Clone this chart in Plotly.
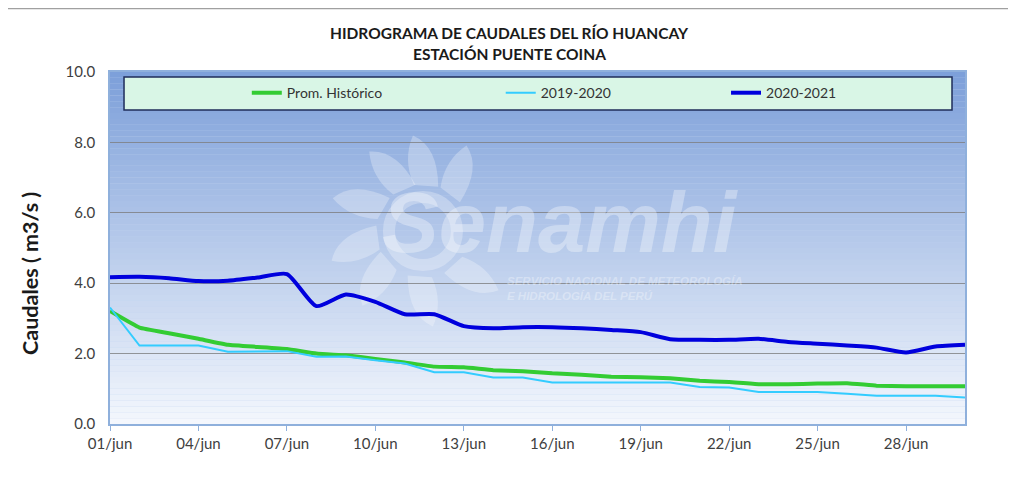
import math
import plotly.graph_objects as go

# dias de junio y caudales (m3/s)
dias = [f"2021-06-{d:02d}" for d in range(1, 31)]

prom_historico = [3.21, 2.74, 2.58, 2.42, 2.25, 2.19, 2.13, 2.00, 1.95, 1.85,
                  1.75, 1.63, 1.61, 1.53, 1.50, 1.44, 1.40, 1.34, 1.33, 1.30,
                  1.23, 1.19, 1.13, 1.13, 1.15, 1.16, 1.09, 1.07, 1.07, 1.07]

q_2019_2020 = [3.31, 2.23, 2.23, 2.23, 2.05, 2.06, 2.07, 1.91, 1.92, 1.81,
               1.72, 1.47, 1.47, 1.32, 1.32, 1.18, 1.18, 1.18, 1.18, 1.18,
               1.05, 1.04, 0.91, 0.91, 0.91, 0.86, 0.80, 0.80, 0.80, 0.75]

q_2020_2021 = [4.17, 4.18, 4.14, 4.06, 4.07, 4.16, 4.26, 3.35, 3.68, 3.47,
               3.12, 3.12, 2.78, 2.72, 2.75, 2.75, 2.72, 2.67, 2.61, 2.41,
               2.39, 2.39, 2.42, 2.33, 2.28, 2.23, 2.17, 2.03, 2.20, 2.25]

tick_vals = dias[::3]
tick_text = [f"{d[-2:]}/jun" for d in tick_vals]

FONT = "Lato"

fig = go.Figure()
fig.add_trace(go.Scatter(x=dias, y=prom_historico, name="Prom. Histórico", legend="legend",
                         mode="lines", line=dict(color="#33cc33", width=4, shape="spline", smoothing=0.3)))
fig.add_trace(go.Scatter(x=dias, y=q_2019_2020, name="2019-2020", legend="legend2",
                         mode="lines", line=dict(color="#33ccff", width=2)))
fig.add_trace(go.Scatter(x=dias, y=q_2020_2021, name="2020-2021", legend="legend3",
                         mode="lines", line=dict(color="#0000dd", width=4, shape="spline", smoothing=0.6)))

# fondo degradado del area de trazado
shapes = []
n = 60
top = (125, 160, 218)
bot = (244, 247, 253)
for i in range(n):
    t = i / (n - 1)
    c = tuple(int(top[k] + (bot[k] - top[k]) * t) for k in range(3))
    shapes.append(dict(type="rect", xref="x domain", yref="y domain",
                       x0=0, x1=1, y0=1 - (i + 1) / n, y1=1 - i / n,
                       fillcolor=f"rgb{c}", line=dict(width=0), layer="below"))

# logo (sol) de la marca de agua
sol_x, sol_y = 0.366, 0.548
wm = "rgba(255,255,255,0.28)"
shapes.append(dict(type="circle", xref="paper", yref="paper", xsizemode="pixel", ysizemode="pixel",
                   xanchor=sol_x, yanchor=sol_y, x0=-34, x1=34, y0=-34, y1=34,
                   line=dict(color=wm, width=12), layer="below"))
for ang in [150, 114, 86, 53, 188, 221, 266, 312]:
    a0 = math.radians(ang - 15)
    a1 = math.radians(ang + 15)
    at = math.radians(ang + 10)
    am = math.radians(ang - 6)
    p0 = (47 * math.cos(a0), 47 * math.sin(a0))
    p1 = (47 * math.cos(a1), 47 * math.sin(a1))
    tip = (96 * math.cos(at), 96 * math.sin(at))
    c0 = (86 * math.cos(am), 86 * math.sin(am))
    c1 = (74 * math.cos(math.radians(ang + 20)), 74 * math.sin(math.radians(ang + 20)))
    path = (f"M {p0[0]:.1f},{p0[1]:.1f} Q {c0[0]:.1f},{c0[1]:.1f} {tip[0]:.1f},{tip[1]:.1f} "
            f"Q {c1[0]:.1f},{c1[1]:.1f} {p1[0]:.1f},{p1[1]:.1f} Z")
    shapes.append(dict(type="path", xref="paper", yref="paper", xsizemode="pixel", ysizemode="pixel",
                       xanchor=sol_x, yanchor=sol_y, path=path,
                       fillcolor=wm, line=dict(width=0), layer="below"))

# caja de la leyenda
shapes.append(dict(type="rect", xref="paper", yref="paper",
                   x0=0.0164, x1=0.9848, y0=0.892, y1=0.986,
                   fillcolor="#d9f6e6", line=dict(color="#1f2d5a", width=1.5),
                   layer="above"))

# marco exterior
shapes.append(dict(type="line", xref="paper", yref="paper",
                   x0=-0.1205, x1=1.07, y0=1.1805, y1=1.1805,
                   line=dict(color="#a0a0a0", width=1.5)))
shapes.append(dict(type="line", xref="paper", yref="paper",
                   x0=-0.1205, x1=-0.1205, y0=1.1805, y1=-0.2,
                   line=dict(color="#a0a0a0", width=1.5)))

WM_FONT = "Liberation Sans"
annotations = [
    dict(text="<b>HIDROGRAMA DE CAUDALES DEL RÍO HUANCAY</b>", x=0.4667, y=1.111,
         xref="paper", yref="paper", showarrow=False, yanchor="middle",
         font=dict(family=FONT, size=15.5, color="#1a1a1a")),
    dict(text="<b>ESTACIÓN PUENTE COINA</b>", x=0.4667, y=1.051,
         xref="paper", yref="paper", showarrow=False, yanchor="middle",
         font=dict(family=FONT, size=15.5, color="#1a1a1a")),
    dict(text="<b>Caudales ( m3/s )</b>", x=-0.0936, y=0.429, textangle=-90,
         xref="paper", yref="paper", showarrow=False, xanchor="center", yanchor="middle",
         font=dict(family=FONT, size=21.5, color="#1a1a1a")),
    # marca de agua
    dict(text="<b><i>Senamhi</i></b>", x=0.527, y=0.4318, xref="paper", yref="paper",
         yanchor="bottom", showarrow=False,
         font=dict(family=WM_FONT, size=85, color="rgba(255,255,255,0.33)")),
    dict(text="<b><i>SERVICIO NACIONAL DE METEOROLOGÍA<br>E HIDROLOGÍA DEL PERÚ</i></b>",
         x=0.462, y=0.428, xref="paper", yref="paper", xanchor="left", yanchor="top",
         align="left", showarrow=False,
         font=dict(family=WM_FONT, size=11.5, color="rgba(255,255,255,0.33)")),
]

leg = dict(orientation="h", y=0.94, xanchor="left", yanchor="middle",
           bgcolor="rgba(0,0,0,0)", font=dict(family=FONT, size=14, color="#333333"))

fig.update_layout(
    width=1000, height=465,
    margin=dict(l=102, r=43, t=64, b=49),
    paper_bgcolor="white",
    plot_bgcolor="#c0d2ee",
    font=dict(family=FONT, color="#404040"),
    showlegend=True,
    legend=dict(leg, x=0.160),
    legend2=dict(leg, x=0.457),
    legend3=dict(leg, x=0.7205),
    shapes=shapes,
    annotations=annotations,
)

fig.update_xaxes(range=[dias[0], dias[-1]], tickvals=tick_vals, ticktext=tick_text,
                 showgrid=False, showline=True, linecolor="#8fb0dc", linewidth=1.5, mirror=True,
                 ticks="outside", ticklen=5, tickcolor="#8fb0dc",
                 tickfont=dict(size=15, color="#404040"))
fig.update_yaxes(range=[0, 10], dtick=2, tickformat=".1f",
                 showgrid=True, gridcolor="rgba(120,120,120,0.75)", gridwidth=1,
                 showline=True, linecolor="#8fb0dc", linewidth=1.5, mirror=True,
                 zeroline=False, ticks="", ticklabelstandoff=10,
                 tickfont=dict(size=15, color="#404040"))

fig.write_html("out.html")
